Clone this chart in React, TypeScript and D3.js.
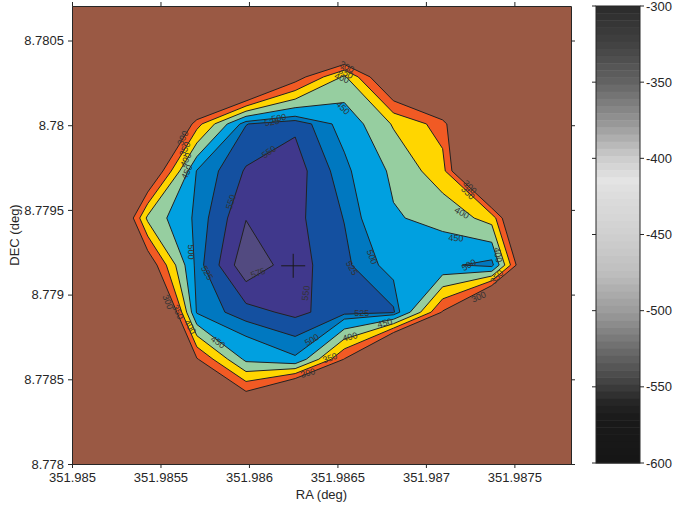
import React, { useRef, useEffect } from "react";
import * as d3 from "d3";

// map grid, 1 arcsec spacing, row 0 is the northern row
const raStart = 351.98515;
const decStart = 8.780563;
const gridStep = 1 / 3600;
const gridValues = [
  [0, 0, 0, 0, 0, 0, 0, 0, 0, 0],
  [0, 0, 0, 66, 270, 408, 202, 0, 0, 0],
  [0, 20, 330, 524, 545, 485, 395, 328, 0, 0],
  [0, 209, 503, 553, 563, 510, 440, 370, 0, 0],
  [30, 412, 510, 574, 557, 524, 455, 434, 381, 0],
  [0, 250, 514, 594, 560, 532, 486, 490, 515, 82],
  [0, 0, 505, 540, 557, 535, 530, 295, 20, 0],
  [0, 0, 295, 462, 495, 298, 0, 0, 0, 0],
  [0, 0, 0, 225, 20, 0, 0, 0, 0, 0],
];

const levels = [300, 350, 400, 450, 500, 525, 550, 575];
const levelColors = ["#f15a24", "#ffd600", "#96cea0", "#00a0e0", "#0078c0", "#1450a0", "#40388c", "#524a80"];
const lowColor = "#9a5944";

const raDomain = [351.985, 351.98782];
const decDomain = [8.778, 8.7807037];
const raTicks = [351.985, 351.9855, 351.986, 351.9865, 351.987, 351.9875];
const decTicks = [8.778, 8.7785, 8.779, 8.7795, 8.78, 8.7805];

const cbTicks = [-300, -350, -400, -450, -500, -550, -600];
const cbStopValues = [-300, -325, -350, -375, -400, -415, -425, -450, -475, -500, -525, -550, -560, -570, -600];
const cbStopGrays = [43, 66, 99, 147, 205, 228, 220, 208, 190, 156, 108, 60, 38, 26, 22];

const centerPos = [351.98625, 8.77917];

// [level, ra, dec, angle]
const contourLabels = [
  [300, 351.985627, 8.779924, -65],
  [350, 351.985638, 8.77986, -65],
  [400, 351.985644, 8.779795, -65],
  [450, 351.98565, 8.779724, -65],
  [500, 351.986169, 8.780042, -10],
  [525, 351.98613, 8.780019, -10],
  [550, 351.986113, 8.779842, -35],
  [550, 351.985898, 8.779547, -72],
  [300, 351.986554, 8.780344, 28],
  [350, 351.986548, 8.780308, 28],
  [400, 351.986525, 8.780279, 22],
  [450, 351.986531, 8.780102, 45],
  [300, 351.987249, 8.779635, 45],
  [350, 351.987237, 8.7796, 45],
  [400, 351.987203, 8.779482, 30],
  [450, 351.987169, 8.779334, 3],
  [500, 351.987243, 8.779175, -28],
  [400, 351.987407, 8.779234, 80],
  [350, 351.987401, 8.779104, -50],
  [300, 351.987299, 8.778986, -25],
  [550, 351.986322, 8.779009, -82],
  [525, 351.986582, 8.779157, 60],
  [500, 351.986695, 8.779222, 70],
  [525, 351.986638, 8.778891, 0],
  [450, 351.986768, 8.778832, -15],
  [500, 351.986356, 8.778732, -30],
  [400, 351.986571, 8.77875, -15],
  [350, 351.986458, 8.778626, -20],
  [300, 351.986333, 8.778537, -15],
  [500, 351.985672, 8.779251, 90],
  [525, 351.985763, 8.779128, 60],
  [575, 351.986051, 8.779128, -20],
  [300, 351.985542, 8.778956, 68],
  [350, 351.985599, 8.778897, 65],
  [400, 351.985667, 8.778809, 58],
  [450, 351.985825, 8.77872, 35],
];

const font = "Liberation Sans, Arial, Helvetica, sans-serif";
const ink = "#262626";

const App = () => {
  const svgRef = useRef<SVGSVGElement>(null);

  useEffect(() => {
    const svg = d3.select(svgRef.current);
    svg.selectAll("*").remove();

    const plot = { left: 72, right: 571, top: 6, bottom: 464 };
    const x = d3.scaleLinear().domain(raDomain).range([plot.left, plot.right]);
    const y = d3.scaleLinear().domain(decDomain).range([plot.bottom, plot.top]);

    // lowest band
    svg.append("rect")
      .attr("x", plot.left).attr("y", plot.top)
      .attr("width", plot.right - plot.left).attr("height", plot.bottom - plot.top)
      .attr("fill", lowColor);

    // filled contours
    const nx = gridValues[0].length;
    const ny = gridValues.length;
    const bands = d3.contours().size([nx, ny]).thresholds(levels)(gridValues.flat());
    const toScreen = d3.geoTransform({
      point(gx: number, gy: number) {
        this.stream.point(x(raStart + (gx - 0.5) * gridStep), y(decStart - (gy - 0.5) * gridStep));
      },
    });
    const path = d3.geoPath(toScreen);

    svg.append("g").selectAll("path")
      .data(bands)
      .enter().append("path")
      .attr("d", (d: any) => path(d))
      .attr("fill", (d: any, i: number) => levelColors[i])
      .attr("fill-rule", "evenodd")
      .attr("stroke", "#222")
      .attr("stroke-width", 1)
      .attr("stroke-linejoin", "round");

    // contour labels
    svg.append("g").selectAll("text")
      .data(contourLabels)
      .enter().append("text")
      .attr("transform", (d) => `translate(${x(d[1])},${y(d[2])}) rotate(${d[3]})`)
      .attr("text-anchor", "middle")
      .attr("dominant-baseline", "central")
      .attr("font-family", font)
      .attr("font-size", 9)
      .attr("fill", "#333")
      .text((d) => String(d[0]));

    // centre marker
    const cx = x(centerPos[0]);
    const cy = y(centerPos[1]);
    const mark = svg.append("g").attr("stroke", "#1a1a1a").attr("stroke-width", 1);
    mark.append("line").attr("x1", cx - 12).attr("x2", cx + 12).attr("y1", cy).attr("y2", cy);
    mark.append("line").attr("x1", cx).attr("x2", cx).attr("y1", cy - 12).attr("y2", cy + 12);

    // axes
    const styleAxis = (g: any) => {
      g.select(".domain").attr("stroke", ink);
      g.selectAll(".tick line").attr("stroke", ink);
      g.selectAll(".tick text").attr("fill", ink).attr("font-family", font).attr("font-size", 13);
    };
    svg.append("g")
      .attr("transform", `translate(0,${plot.bottom})`)
      .call(d3.axisBottom(x).tickValues(raTicks).tickFormat((d: any) => String(d)).tickSize(4).tickSizeOuter(0).tickPadding(5))
      .call(styleAxis);
    svg.append("g")
      .attr("transform", `translate(0,${plot.top})`)
      .call(d3.axisTop(x).tickValues(raTicks).tickFormat(() => "").tickSize(4).tickSizeOuter(0))
      .call(styleAxis);
    svg.append("g")
      .attr("transform", `translate(${plot.left},0)`)
      .call(d3.axisLeft(y).tickValues(decTicks).tickFormat((d: any) => String(d)).tickSize(4).tickSizeOuter(0).tickPadding(4))
      .call(styleAxis);
    svg.append("g")
      .attr("transform", `translate(${plot.right},0)`)
      .call(d3.axisRight(y).tickValues(decTicks).tickFormat(() => "").tickSize(4).tickSizeOuter(0))
      .call(styleAxis);

    svg.append("text")
      .attr("x", (plot.left + plot.right) / 2).attr("y", 499)
      .attr("text-anchor", "middle")
      .attr("font-family", font).attr("font-size", 13).attr("fill", ink)
      .text("RA (deg)");
    svg.append("text")
      .attr("transform", `translate(19,${(plot.top + plot.bottom) / 2}) rotate(-90)`)
      .attr("text-anchor", "middle")
      .attr("font-family", font).attr("font-size", 13).attr("fill", ink)
      .text("DEC (deg)");

    // colorbar
    const cb = { left: 596, right: 640, top: 6, bottom: 463 };
    const cbY = d3.scaleLinear().domain([-600, -300]).range([cb.bottom, cb.top]);
    const gray = d3.scaleLinear<number>().domain(cbStopValues).range(cbStopGrays).clamp(true);
    const steps = 64;
    const stepValues = d3.range(steps).map((i) => -300 - (i * 300) / steps);
    svg.append("g").selectAll("rect")
      .data(stepValues)
      .enter().append("rect")
      .attr("x", cb.left)
      .attr("width", cb.right - cb.left)
      .attr("y", (v) => cbY(v))
      .attr("height", (v) => cbY(v - 300 / steps) - cbY(v) + 0.5)
      .attr("fill", (v) => {
        const g = Math.round(gray(v - 150 / steps));
        return `rgb(${g},${g},${g})`;
      });
    svg.append("rect")
      .attr("x", cb.left).attr("y", cb.top)
      .attr("width", cb.right - cb.left).attr("height", cb.bottom - cb.top)
      .attr("fill", "none").attr("stroke", ink);

    const cbAxis = svg.append("g");
    cbAxis.selectAll("line.l")
      .data(cbTicks).enter().append("line")
      .attr("x1", cb.left - 4).attr("x2", cb.left)
      .attr("y1", (v) => cbY(v)).attr("y2", (v) => cbY(v))
      .attr("stroke", ink);
    cbAxis.selectAll("line.r")
      .data(cbTicks).enter().append("line")
      .attr("x1", cb.right).attr("x2", cb.right + 4)
      .attr("y1", (v) => cbY(v)).attr("y2", (v) => cbY(v))
      .attr("stroke", ink);
    cbAxis.selectAll("text")
      .data(cbTicks).enter().append("text")
      .attr("x", cb.right + 6)
      .attr("y", (v) => cbY(v))
      .attr("dominant-baseline", "central")
      .attr("font-family", font).attr("font-size", 13).attr("fill", ink)
      .text((v) => String(v));
  }, []);

  return (
    <svg
      ref={svgRef}
      width={674}
      height={509}
      style={{ position: "absolute", left: 0, top: 0, background: "#fff" }}
    ></svg>
  );
};

export default App;
